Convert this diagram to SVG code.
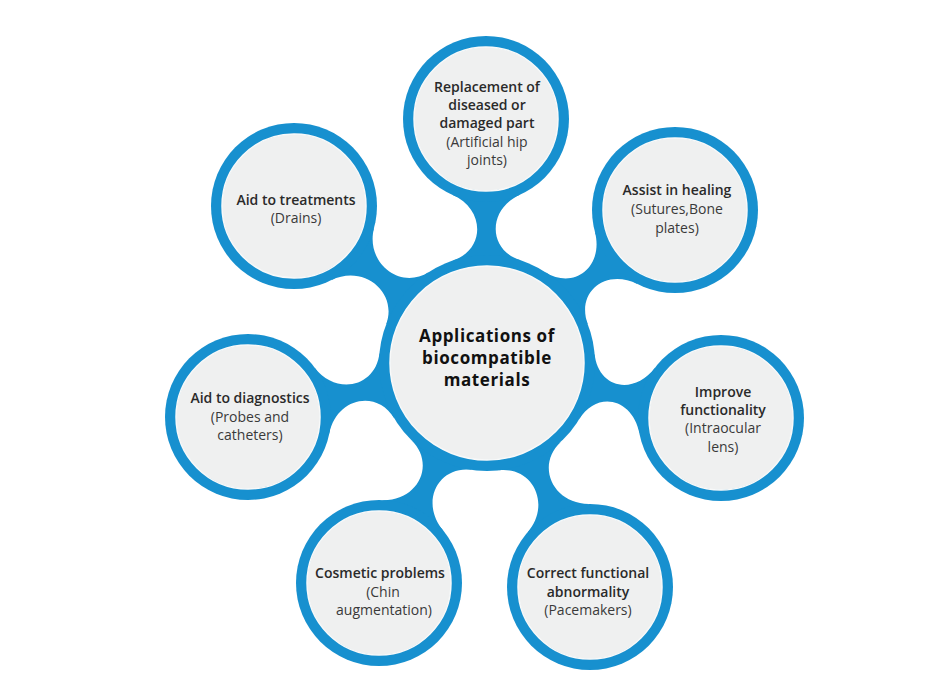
<svg xmlns="http://www.w3.org/2000/svg" width="936" height="680" viewBox="0 0 936 680">
<style>
.ring{fill:#1790cf}
.inner{fill:#eff0f0;stroke:#f8f9f9;stroke-width:1.5}
.stem{fill:#1790cf}
text{font-family:"Open Sans","Liberation Sans",sans-serif;text-anchor:middle}
.t{font-size:14px;font-weight:600;fill:#2a2a2a}
.s{font-size:14px;font-weight:400;fill:#3a3a3a}
.c{font-size:17px;font-weight:700;fill:#111;letter-spacing:0.6px}
</style>
<rect width="936" height="680" fill="#fff"/>
<g id="connectors">
<path class="stem" transform="translate(487 363) rotate(-90.23)" d="M102.5,-34 C113.4,-1 153.5,-1 168.3,-34 L168.3,34 C153.5,1 113.4,1 102.5,34 Z"/>
<path class="stem" transform="translate(487 363) rotate(-39.14)" d="M102.5,-34 C113.4,-1 151.9,-1 166.7,-34 L166.7,34 C151.9,1 113.4,1 102.5,34 Z"/>
<path class="stem" transform="translate(487 363) rotate(13.23)" d="M102.5,-34 C113.4,-1 149.9,-1 164.7,-34 L164.7,34 C149.9,1 113.4,1 102.5,34 Z"/>
<path class="stem" transform="translate(487 363) rotate(65.30)" d="M102.5,-34 C113.4,-1 156,-1 170.8,-34 L170.8,34 C156,1 113.4,1 102.5,34 Z"/>
<path class="stem" transform="translate(487 363) rotate(116.14)" d="M102.5,-34 C113.4,-1 154.6,-1 169.4,-34 L169.4,34 C154.6,1 113.4,1 102.5,34 Z"/>
<path class="stem" transform="translate(487 363) rotate(167.27)" d="M102.5,-34 C113.4,-1 154.5,-1 169.3,-34 L169.3,34 C154.5,1 113.4,1 102.5,34 Z"/>
<path class="stem" transform="translate(487 363) rotate(-140.88)" d="M102.5,-34 C113.4,-1 158.3,-1 173.1,-34 L173.1,34 C158.3,1 113.4,1 102.5,34 Z"/>
</g>
<g id="center">
<circle class="ring" cx="487" cy="363" r="108"/>
<circle class="inner" cx="487" cy="363" r="97"/>
<text class="c" x="487" y="342">Applications of</text>
<text class="c" x="487" y="364">biocompatible</text>
<text class="c" x="487" y="386">materials</text>
</g>
<g id="replacement">
<circle class="ring" cx="486" cy="119" r="83"/>
<circle class="inner" cx="486" cy="119" r="72"/>
<text class="t" x="487" y="92">Replacement of</text>
<text class="t" x="487" y="110">diseased or</text>
<text class="t" x="487" y="128">damaged part</text>
<text class="s" x="487" y="147">(Artificial hip</text>
<text class="s" x="487" y="165">joints)</text>
</g>
<g id="healing">
<circle class="ring" cx="675" cy="210" r="83"/>
<circle class="inner" cx="675" cy="210" r="72"/>
<text class="t" x="677" y="195">Assist in healing</text>
<text class="s" x="677" y="214">(Sutures,Bone</text>
<text class="s" x="677" y="233">plates)</text>
</g>
<g id="functionality">
<circle class="ring" cx="721" cy="418" r="83"/>
<circle class="inner" cx="721" cy="418" r="72"/>
<text class="t" x="723" y="397">Improve</text>
<text class="t" x="723" y="415">functionality</text>
<text class="s" x="723" y="433">(Intraocular</text>
<text class="s" x="723" y="452">lens)</text>
</g>
<g id="abnormality">
<circle class="ring" cx="590" cy="587" r="83"/>
<circle class="inner" cx="590" cy="587" r="72"/>
<text class="t" x="588" y="578">Correct functional</text>
<text class="t" x="588" y="597">abnormality</text>
<text class="s" x="588" y="615">(Pacemakers)</text>
</g>
<g id="cosmetic">
<circle class="ring" cx="379" cy="583" r="83"/>
<circle class="inner" cx="379" cy="583" r="72"/>
<text class="t" x="380" y="578">Cosmetic problems</text>
<text class="s" x="383" y="597">(Chin</text>
<text class="s" x="384" y="615">augmentation)</text>
</g>
<g id="diagnostics">
<circle class="ring" cx="248" cy="417" r="83"/>
<circle class="inner" cx="248" cy="417" r="72"/>
<text class="t" x="250" y="403">Aid to diagnostics</text>
<text class="s" x="250" y="422">(Probes and</text>
<text class="s" x="250" y="440">catheters)</text>
</g>
<g id="treatments">
<circle class="ring" cx="294" cy="206" r="83"/>
<circle class="inner" cx="294" cy="206" r="72"/>
<text class="t" x="296" y="205">Aid to treatments</text>
<text class="s" x="296" y="223">(Drains)</text>
</g>
</svg>
